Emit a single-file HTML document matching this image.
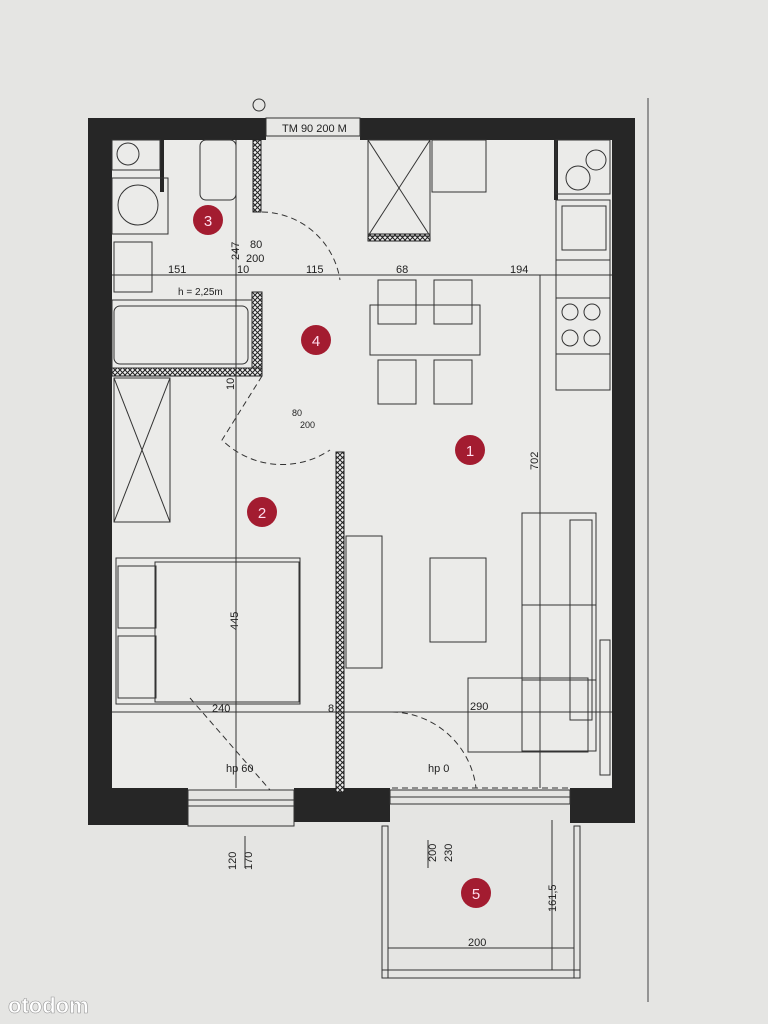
<!DOCTYPE html>
<html><head><meta charset="utf-8"><style>
html,body{margin:0;padding:0;background:#e4e4e2;}
svg{display:block}
text{font-family:"Liberation Sans",sans-serif;fill:#222}
</style></head><body>
<svg width="768" height="1024" viewBox="0 0 768 1024" xmlns="http://www.w3.org/2000/svg">
<defs>
<pattern id="hx" width="5" height="5" patternUnits="userSpaceOnUse"><rect width="5" height="5" fill="#eee"/><path d="M0 0L5 5M5 0L0 5" stroke="#222" stroke-width="1"/></pattern>
</defs>
<rect width="768" height="1024" fill="#e5e5e3"/>
<line x1="648" y1="98" x2="648" y2="1002" stroke="#444" stroke-width="1"/>
<rect x="112" y="140" width="500" height="650" fill="#ebebe9"/>
<g fill="#262626">
<rect x="88" y="118" width="178" height="22"/>
<rect x="360" y="118" width="275" height="22"/>
<rect x="88" y="118" width="24" height="707"/>
<rect x="612" y="118" width="23" height="705"/>
<rect x="88" y="788" width="100" height="37"/>
<rect x="294" y="788" width="96" height="34"/>
<rect x="570" y="788" width="65" height="35"/>
<rect x="160" y="140" width="4" height="52"/>
<rect x="554" y="140" width="4" height="60"/>
</g>
<rect x="266" y="118" width="94" height="18" fill="#e8e8e6" stroke="#333"/>
<text x="282" y="132" font-size="11">TM 90 200 M</text>
<circle cx="259" cy="105" r="6" fill="none" stroke="#333"/>
<g fill="url(#hx)" stroke="#222" stroke-width="1">
<rect x="253" y="140" width="8" height="72"/>
<rect x="368" y="234" width="62" height="7"/>
<rect x="112" y="368" width="150" height="8"/>
<rect x="252" y="292" width="10" height="76"/>
<rect x="336" y="452" width="8" height="340"/>
</g>
<g fill="none" stroke="#333" stroke-width="1">
<line x1="112" y1="275" x2="612" y2="275"/>
<line x1="112" y1="712" x2="612" y2="712"/>
<line x1="236" y1="140" x2="236" y2="788"/>
<line x1="540" y1="275" x2="540" y2="788"/>
<rect x="368" y="140" width="62" height="96"/>
<line x1="368" y1="140" x2="430" y2="236"/><line x1="430" y1="140" x2="368" y2="236"/>
<rect x="432" y="140" width="54" height="52"/>
<rect x="114" y="306" width="134" height="58" rx="6"/>
<rect x="112" y="300" width="140" height="68"/>
<rect x="114" y="378" width="56" height="144"/>
<line x1="114" y1="378" x2="170" y2="522"/><line x1="170" y1="378" x2="114" y2="522"/>
<rect x="116" y="558" width="184" height="146"/>
<rect x="155" y="562" width="144" height="140"/>
<rect x="118" y="566" width="38" height="62"/><rect x="118" y="636" width="38" height="62"/>
<rect x="370" y="305" width="110" height="50"/>
<rect x="378" y="280" width="38" height="44"/><rect x="434" y="280" width="38" height="44"/>
<rect x="378" y="360" width="38" height="44"/><rect x="434" y="360" width="38" height="44"/>
<rect x="430" y="558" width="56" height="84"/>
<rect x="346" y="536" width="36" height="132"/>
<rect x="522" y="513" width="74" height="238"/>
<rect x="468" y="678" width="120" height="74"/>
<rect x="570" y="520" width="22" height="200"/>
<line x1="522" y1="605" x2="596" y2="605"/><line x1="522" y1="680" x2="596" y2="680"/>
<rect x="600" y="640" width="10" height="135"/>
<rect x="556" y="140" width="54" height="54"/><circle cx="578" cy="178" r="12"/><circle cx="596" cy="160" r="10"/>
<rect x="556" y="200" width="54" height="60"/><rect x="562" y="206" width="44" height="44"/>
<rect x="556" y="260" width="54" height="38"/><rect x="556" y="298" width="54" height="56"/>
<circle cx="570" cy="312" r="8"/><circle cx="592" cy="312" r="8"/><circle cx="570" cy="338" r="8"/><circle cx="592" cy="338" r="8"/>
<rect x="556" y="354" width="54" height="36"/>
<rect x="112" y="140" width="48" height="30"/><circle cx="128" cy="154" r="11"/>
<rect x="112" y="178" width="56" height="56"/><circle cx="138" cy="205" r="20"/>
<rect x="200" y="140" width="36" height="60" rx="6"/>
<rect x="114" y="242" width="38" height="50"/>
<path d="M262 212 A80 80 0 0 1 340 280" stroke-dasharray="6 4"/>
<path d="M262 376 L222 440 A86 86 0 0 0 330 450" stroke-dasharray="6 4"/>
<path d="M190 698 L270 790" stroke-dasharray="6 4"/>
<path d="M392 712 A86 86 0 0 1 476 788" stroke-dasharray="6 4"/>
<line x1="392" y1="788" x2="570" y2="788" stroke-dasharray="6 4"/>
<rect x="188" y="790" width="106" height="36"/><line x1="188" y1="800" x2="294" y2="800"/><line x1="188" y1="806" x2="294" y2="806"/>
<rect x="390" y="790" width="180" height="14"/><line x1="390" y1="797" x2="570" y2="797"/>
<rect x="382" y="826" width="6" height="152"/><rect x="574" y="826" width="6" height="152"/>
<rect x="382" y="970" width="198" height="8"/>
<line x1="388" y1="948" x2="574" y2="948"/>
<line x1="552" y1="820" x2="552" y2="970"/>
<line x1="428" y1="840" x2="428" y2="868"/>
<line x1="245" y1="836" x2="245" y2="868"/>
</g>
<g font-size="11">
<text x="168" y="273">151</text><text x="237" y="273">10</text><text x="306" y="273">115</text>
<text x="396" y="273">68</text><text x="510" y="273">194</text>
<text x="250" y="248">80</text><text x="246" y="262">200</text>
<text x="178" y="295" font-size="10">h = 2,25m</text>
<text x="212" y="712">240</text><text x="470" y="710">290</text><text x="328" y="712">8</text>
<text x="226" y="772">hp 60</text><text x="428" y="772">hp 0</text>
<text x="468" y="946">200</text>
<text x="292" y="416" font-size="9">80</text><text x="300" y="428" font-size="9">200</text>
<text transform="translate(239,260) rotate(-90)">247</text>
<text transform="translate(538,470) rotate(-90)">702</text>
<text transform="translate(238,630) rotate(-90)">445</text>
<text transform="translate(234,390) rotate(-90)">10</text>
<text transform="translate(236,870) rotate(-90)">120</text><text transform="translate(252,870) rotate(-90)">170</text>
<text transform="translate(436,862) rotate(-90)">200</text><text transform="translate(452,862) rotate(-90)">230</text>
<text transform="translate(556,912) rotate(-90)">161,5</text>
</g>
<g font-size="15" text-anchor="middle">
<circle cx="470" cy="450" r="15" fill="#a31c30"/><text x="470" y="456" style="fill:#fde">1</text>
<circle cx="262" cy="512" r="15" fill="#a31c30"/><text x="262" y="518" style="fill:#fde">2</text>
<circle cx="208" cy="220" r="15" fill="#a31c30"/><text x="208" y="226" style="fill:#fde">3</text>
<circle cx="316" cy="340" r="15" fill="#a31c30"/><text x="316" y="346" style="fill:#fde">4</text>
<circle cx="476" cy="893" r="15" fill="#a31c30"/><text x="476" y="899" style="fill:#fde">5</text>
</g>
<text x="8" y="1013" font-size="22" font-weight="bold" style="fill:#fff;stroke:#999;stroke-width:0.6">otodom</text>
</svg>
</body></html>
